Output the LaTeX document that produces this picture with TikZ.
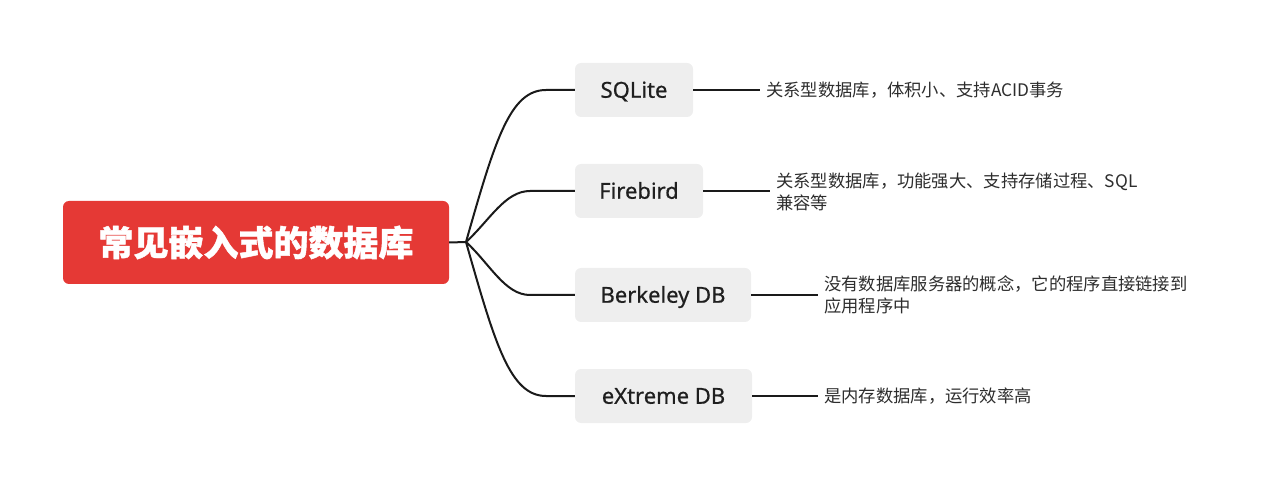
\documentclass[tikz,border=0pt]{standalone}
\usepackage{fontspec}
\newfontfamily\cjk{Noto Sans CJK SC}
\newfontfamily\rootfont{Noto Sans CJK SC}[BoldFeatures={FakeBold=1.2}]
\newfontfamily\brfont{Noto Sans}[FakeBold=0.6]
\definecolor{rootred}{RGB}{229,57,53}
\definecolor{brgray}{RGB}{238,238,238}
\definecolor{linec}{RGB}{26,26,26}
\definecolor{leaftext}{RGB}{45,45,45}
\begin{document}
\begin{tikzpicture}[x=1pt,y=-1pt,
  rootbox/.style={fill=rootred, rounded corners=6pt, minimum width=386pt, minimum height=83pt, inner sep=0pt, text=white, font=\rootfont\bfseries\fontsize{35}{40}\selectfont},
  brbox/.style={fill=brgray, rounded corners=6pt, minimum height=54pt, inner sep=0pt, text height=15.5pt, text depth=0pt, text=black!88, font=\brfont\fontsize{22}{24}\selectfont},
  leaf/.style={anchor=west, inner xsep=6pt, inner ysep=0pt, align=left, text=leaftext, font=\cjk\fontsize{17.3}{22}\selectfont},
  conn/.style={draw=linec, line width=2pt}
]
\useasboundingbox (0,0) rectangle (1261,486);
\node[rootbox] (root) at (256,242.5) {常见嵌入式的数据库};
\coordinate (j) at (466,242);
\node[brbox, minimum width=118pt] (b1) at (634,90) {SQLite};
\node[brbox, minimum width=128pt] (b2) at (639,191) {Firebird};
\node[brbox, minimum width=176pt] (b3) at (663,295) {Berkeley DB};
\node[brbox, minimum width=177pt] (b4) at (663.5,396) {eXtreme DB};
\coordinate (e1) at (546,90);
\coordinate (e2) at (530,191);
\coordinate (e3) at (530,295);
\coordinate (e4) at (546,396);
\node[leaf] (l1) at (760,90) {关系型数据库，体积小、支持ACID事务};
\node[leaf] (l2) at (770,192) {关系型数据库，功能强大、支持存储过程、SQL\\兼容等};
\node[leaf] (l3) at (818,295) {没有数据库服务器的概念，它的程序直接链接到\\应用程序中};
\node[leaf] (l4) at (818,396) {是内存数据库，运行效率高};
\draw[conn] (root.east) -- (j);
\draw[conn] (j) .. controls (495,140) and (510,90) .. (e1) -- (b1.west);
\draw[conn] (j) .. controls (490,220) and (505,191) .. (e2) -- (b2.west);
\draw[conn] (j) .. controls (490,264) and (505,295) .. (e3) -- (b3.west);
\draw[conn] (j) .. controls (495,344) and (510,396) .. (e4) -- (b4.west);
\draw[conn] (b1.east) -- (l1.west);
\draw[conn] (b2.east) -- (l2.west |- b2.east);
\draw[conn] (b3.east) -- (l3.west);
\draw[conn] (b4.east) -- (l4.west);
\end{tikzpicture}
\end{document}
